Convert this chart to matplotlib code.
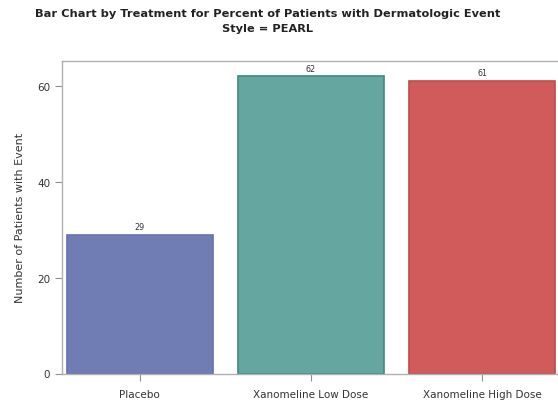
import numpy as np
import matplotlib.pyplot as plt

treatments = ['Placebo', 'Xanomeline Low Dose', 'Xanomeline High Dose']
n_patients = [29, 62, 61]
bar_colors = ['#6F7DB4', '#65A6A0', '#D15A5B']
edge_colors = ['#6473AA', '#3F8880', '#BC4C4D']

fig = plt.figure(figsize=(5.58, 4.02), dpi=100)
W, H = 558.0, 402.0
# axes box in pixels: left 62, right 560, top 62, bottom 374
ax = fig.add_axes([62 / W, 1 - 374.5 / H, (560 - 62) / W, (374.5 - 62) / H])

x = np.arange(len(treatments))
ax.bar(x, n_patients, width=0.855, color=bar_colors, edgecolor=edge_colors, linewidth=1.2)
for xi, v in zip(x, n_patients):
    ax.text(xi, v + 0.8, str(v), ha='center', va='bottom', fontsize=5.8, color='#333333')

ax.set_xlim(-0.455, 2.455)
ax.set_ylim(0, 65.2)
ax.set_yticks([0, 20, 40, 60])
ax.set_xticks(x)
ax.set_xticklabels(treatments)

for s in ax.spines.values():
    s.set_color('#B0B0B0')
    s.set_linewidth(1.0)
ax.tick_params(axis='both', colors='#909090', labelcolor='#333333', labelsize=7.5, length=5)
ax.tick_params(axis='x', pad=6)
ax.set_ylabel('Number of Patients with Event', fontsize=8, color='#333333', labelpad=9)

tx = 268 / W
fig.text(tx, 1 - 14 / H, 'Bar Chart by Treatment for Percent of Patients with Dermatologic Event',
         ha='center', va='center', fontsize=8.2, fontweight='bold', color='#222222')
fig.text(tx, 1 - 29 / H, 'Style = PEARL', ha='center', va='center', fontsize=8.2,
         fontweight='bold', color='#222222')

fig.savefig('out.png', dpi=100)
